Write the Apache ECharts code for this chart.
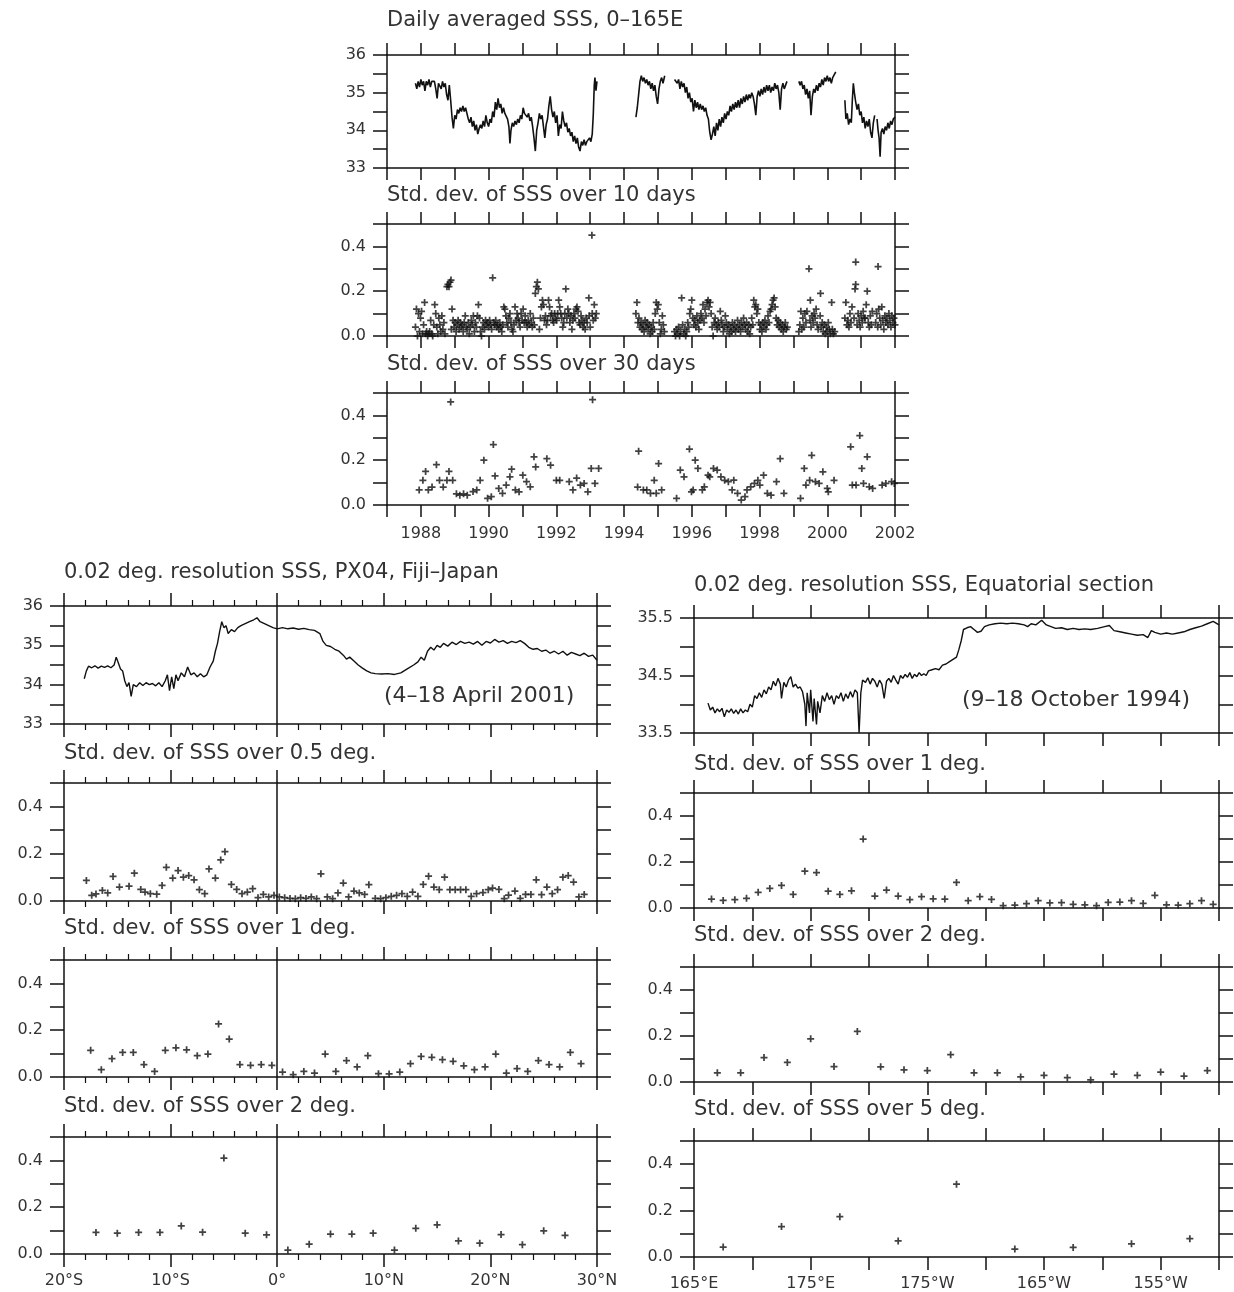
<!DOCTYPE html>
<html>
<head>
<meta charset="utf-8">
<script src="https://cdn.jsdelivr.net/npm/echarts@6/dist/echarts.min.js"></script>
<style>html,body{margin:0;padding:0;background:#fff}#c{width:1234px;height:1292px}</style>
</head>
<body>
<div id="c"></div>
<script>
// ---------- tick labels ----------
const yearLabelValues = [1988,1990,1992,1994,1996,1998,2000,2002];
const latLabelValues = [-20,-10,0,10,20,30];
const latLabelTexts = ['20°S','10°S','0°','10°N','20°N','30°N'];
const lonLabelValues = [165,175,185,195,205];
const lonLabelTexts = ['165°E','175°E','175°W','165°W','155°W'];
const stdLabelValues = [0,0.2,0.4];
const stdLabelTexts = ['0.0','0.2','0.4'];
const sssLabelValues = [33,34,35,36];
const eqSssLabelValues = [33.5,34.5,35.5];

// ---------- titles ----------
const panelTitles = [
  'Daily averaged SSS, 0–165E','Std. dev. of SSS over 10 days','Std. dev. of SSS over 30 days',
  '0.02 deg. resolution SSS, PX04, Fiji–Japan','Std. dev. of SSS over 0.5 deg.','Std. dev. of SSS over 1 deg.','Std. dev. of SSS over 2 deg.',
  '0.02 deg. resolution SSS, Equatorial section','Std. dev. of SSS over 1 deg.','Std. dev. of SSS over 2 deg.','Std. dev. of SSS over 5 deg.'
];
const notes = ['(4–18 April 2001)','(9–18 October 1994)'];

// ---------- data: daily averaged SSS (year, psu) ----------
const dailySSS = [
[1987.84,35.25],[1987.88,35.1],[1987.92,35.3],[1987.96,35.15],[1988.0,35.35],[1988.04,35.2],[1988.08,35.3],[1988.12,35.05],[1988.16,35.3],[1988.2,35.2],[1988.24,35.35],[1988.28,35.15],[1988.32,35.3],[1988.36,35.25],[1988.4,35.3],[1988.44,35.1],[1988.48,34.85],[1988.52,35.25],[1988.56,35.3],[1988.6,35.1],[1988.64,35.3],[1988.68,35.15],[1988.72,35.25],[1988.76,34.95],[1988.8,34.8],[1988.84,35.2],[1988.88,34.8],[1988.92,34.35],[1988.96,34.05],[1989.0,34.4],[1989.04,34.3],[1989.08,34.55],[1989.12,34.45],[1989.16,34.6],[1989.2,34.5],[1989.24,34.65],[1989.28,34.5],[1989.32,34.6],[1989.36,34.45],[1989.4,34.3],[1989.44,34.2],[1989.48,34.35],[1989.52,34.1],[1989.56,34.25],[1989.6,34.0],[1989.64,34.15],[1989.68,33.9],[1989.72,34.05],[1989.76,34.15],[1989.8,34.05],[1989.84,34.25],[1989.88,34.1],[1989.92,34.4],[1989.96,34.2],[1990.0,34.1],[1990.04,34.3],[1990.08,34.2],[1990.12,34.5],[1990.16,34.35],[1990.2,34.75],[1990.24,34.55],[1990.28,34.85],[1990.32,34.6],[1990.36,34.7],[1990.4,34.45],[1990.44,34.6],[1990.48,34.45],[1990.52,34.5],[1990.56,34.3],[1990.6,34.1],[1990.63,33.65],[1990.66,34.0],[1990.7,34.2],[1990.74,34.1],[1990.78,34.25],[1990.82,34.15],[1990.86,34.3],[1990.9,34.2],[1990.94,34.4],[1990.98,34.3],[1991.02,34.6],[1991.06,34.45],[1991.1,34.5],[1991.14,34.35],[1991.18,34.45],[1991.22,34.25],[1991.26,34.35],[1991.3,34.1],[1991.34,33.8],[1991.38,33.45],[1991.42,34.0],[1991.46,34.2],[1991.5,34.45],[1991.54,34.3],[1991.58,34.4],[1991.62,34.1],[1991.66,33.8],[1991.7,34.15],[1991.74,34.3],[1991.78,34.65],[1991.82,34.9],[1991.86,34.55],[1991.9,34.35],[1991.94,34.5],[1991.98,34.2],[1992.02,34.4],[1992.06,33.85],[1992.1,34.15],[1992.14,34.05],[1992.18,34.5],[1992.22,34.25],[1992.26,34.1],[1992.3,34.2],[1992.34,33.95],[1992.38,34.05],[1992.42,33.85],[1992.46,33.95],[1992.5,33.7],[1992.54,33.85],[1992.58,33.65],[1992.62,33.8],[1992.66,33.55],[1992.7,33.45],[1992.74,33.7],[1992.78,33.6],[1992.82,33.75],[1992.86,33.6],[1992.9,33.7],[1992.94,33.65],[1992.98,33.8],[1993.02,33.7],[1993.06,33.9],[1993.09,34.4],[1993.12,35.2],[1993.14,35.4],[1993.17,35.05],[1993.2,35.3],
[1993.7,null],
[1994.35,34.35],[1994.39,34.6],[1994.43,34.95],[1994.47,35.3],[1994.51,35.45],[1994.55,35.3],[1994.59,35.4],[1994.63,35.25],[1994.67,35.35],[1994.71,35.2],[1994.75,35.3],[1994.79,35.1],[1994.83,35.25],[1994.87,35.05],[1994.91,35.2],[1994.95,34.9],[1994.99,34.7],[1995.03,35.1],[1995.07,35.3],[1995.11,35.4],[1995.15,35.25],[1995.2,35.45],
[1995.35,null],
[1995.49,35.35],[1995.53,35.4],[1995.57,35.25],[1995.61,35.35],[1995.65,35.1],[1995.69,35.3],[1995.73,35.15],[1995.77,35.25],[1995.81,35.0],[1995.85,35.15],[1995.89,34.85],[1995.93,35.0],[1995.97,34.75],[1996.01,34.85],[1996.05,34.5],[1996.09,34.8],[1996.13,34.6],[1996.17,34.75],[1996.21,34.55],[1996.25,34.7],[1996.29,34.55],[1996.33,34.65],[1996.37,34.5],[1996.41,34.6],[1996.45,34.4],[1996.49,34.3],[1996.53,33.95],[1996.57,33.75],[1996.61,33.9],[1996.65,34.1],[1996.69,33.85],[1996.73,34.2],[1996.77,34.0],[1996.81,34.3],[1996.85,34.1],[1996.89,34.35],[1996.93,34.2],[1996.97,34.45],[1997.01,34.3],[1997.05,34.5],[1997.09,34.4],[1997.13,34.65],[1997.17,34.5],[1997.21,34.7],[1997.25,34.55],[1997.29,34.75],[1997.33,34.6],[1997.37,34.8],[1997.41,34.6],[1997.45,34.85],[1997.49,34.7],[1997.53,34.9],[1997.57,34.75],[1997.61,34.95],[1997.65,34.8],[1997.69,34.95],[1997.73,34.85],[1997.77,35.0],[1997.81,34.9],[1997.85,34.7],[1997.89,34.4],[1997.93,34.9],[1997.97,35.05],[1998.01,34.9],[1998.05,35.1],[1998.09,34.95],[1998.13,35.15],[1998.17,35.0],[1998.21,35.2],[1998.25,35.05],[1998.29,35.2],[1998.33,35.0],[1998.37,35.15],[1998.41,35.05],[1998.45,35.25],[1998.49,35.1],[1998.53,35.2],[1998.57,35.0],[1998.61,34.55],[1998.65,35.1],[1998.69,35.25],[1998.73,35.1],[1998.77,35.2],[1998.81,35.3],
[1999.0,null],
[1999.16,35.3],[1999.2,35.2],[1999.24,35.3],[1999.28,35.1],[1999.32,35.2],[1999.36,34.95],[1999.4,35.1],[1999.44,34.85],[1999.48,35.05],[1999.52,34.4],[1999.56,34.9],[1999.6,35.1],[1999.64,35.0],[1999.68,35.2],[1999.72,35.05],[1999.76,35.25],[1999.8,35.15],[1999.84,35.35],[1999.88,35.2],[1999.92,35.4],[1999.96,35.3],[2000.0,35.45],[2000.04,35.3],[2000.08,35.4],[2000.12,35.25],[2000.16,35.4],[2000.2,35.35],[2000.25,35.55],
[2000.4,null],
[2000.52,34.8],[2000.55,34.3],[2000.59,34.45],[2000.63,34.15],[2000.67,34.3],[2000.71,34.2],[2000.74,34.8],[2000.77,35.25],[2000.8,35.0],[2000.84,34.75],[2000.88,34.55],[2000.92,34.7],[2000.96,34.4],[2001.0,34.5],[2001.04,34.2],[2001.08,34.35],[2001.12,34.05],[2001.16,34.25],[2001.2,34.1],[2001.24,34.3],[2001.28,33.95],[2001.32,33.8],[2001.36,34.2],[2001.4,34.4],[2001.44,null],[2001.47,34.3],[2001.5,34.0],[2001.53,33.8],[2001.56,33.3],[2001.59,33.95],[2001.63,34.05],[2001.67,33.9],[2001.71,34.1],[2001.75,34.0],[2001.79,34.2],[2001.83,34.05],[2001.87,34.25],[2001.91,34.15],[2001.95,34.3],[2002.0,34.35]
];

// ---------- std. dev. over 10 days (year, psu) ----------
const sd10days = [
[1987.84,0.04],[1987.87,0.12],[1987.9,0.0],[1987.93,0.1],[1987.96,0.02],[1987.99,0.08],[1988.02,0.11],[1988.05,0.01],[1988.08,0.05],[1988.11,0.15],[1988.14,0.01],[1988.17,0.02],[1988.2,0.0],[1988.23,0.01],[1988.26,0.02],[1988.29,0.07],[1988.32,0.01],[1988.35,0.0],[1988.38,0.05],[1988.41,0.14],[1988.44,0.1],[1988.47,0.04],[1988.5,0.01],[1988.53,0.08],[1988.56,0.05],[1988.59,0.02],[1988.62,0.09],[1988.65,0.03],[1988.68,0.06],[1988.71,0.01],[1988.77,0.22],[1988.8,0.23],[1988.83,0.22],[1988.86,0.24],[1988.89,0.25],[1988.9,0.03],[1988.92,0.12],[1988.95,0.07],[1988.98,0.04],
[1989.01,0.06],[1989.04,0.02],[1989.07,0.05],[1989.1,0.07],[1989.13,0.03],[1989.16,0.06],[1989.19,0.04],[1989.22,0.05],[1989.25,0.02],[1989.28,0.06],[1989.31,0.09],[1989.34,0.04],[1989.37,0.03],[1989.4,0.06],[1989.43,0.01],[1989.46,0.04],[1989.49,0.07],[1989.52,0.05],[1989.55,0.09],[1989.58,0.02],[1989.61,0.06],[1989.64,0.04],[1989.67,0.09],[1989.7,0.14],[1989.73,0.08],[1989.76,0.02],[1989.79,0.0],[1989.82,0.04],[1989.85,0.06],[1989.88,0.03],[1989.91,0.07],[1989.94,0.05],[1989.97,0.06],
[1990.0,0.04],[1990.03,0.07],[1990.06,0.05],[1990.12,0.26],[1990.09,0.03],[1990.15,0.06],[1990.18,0.05],[1990.21,0.07],[1990.24,0.04],[1990.27,0.05],[1990.3,0.03],[1990.33,0.06],[1990.36,0.04],[1990.39,0.02],[1990.42,0.05],[1990.45,0.13],[1990.48,0.12],[1990.51,0.09],[1990.54,0.06],[1990.57,0.04],[1990.6,0.08],[1990.63,0.1],[1990.66,0.06],[1990.69,0.03],[1990.72,0.02],[1990.75,0.05],[1990.78,0.13],[1990.81,0.07],[1990.84,0.1],[1990.87,0.08],[1990.9,0.06],[1990.93,0.04],[1990.96,0.1],[1990.99,0.07],
[1991.02,0.12],[1991.05,0.06],[1991.08,0.09],[1991.11,0.06],[1991.14,0.04],[1991.17,0.07],[1991.2,0.05],[1991.23,0.1],[1991.26,0.06],[1991.29,0.04],[1991.32,0.08],[1991.35,0.05],[1991.38,0.19],[1991.41,0.22],[1991.44,0.24],[1991.47,0.21],[1991.5,0.03],[1991.53,0.08],[1991.56,0.13],[1991.59,0.16],[1991.62,0.14],[1991.65,0.07],[1991.68,0.09],[1991.71,0.05],[1991.74,0.07],[1991.77,0.16],[1991.8,0.13],[1991.83,0.09],[1991.86,0.1],[1991.89,0.07],[1991.92,0.06],[1991.95,0.1],[1991.98,0.08],
[1992.01,0.07],[1992.04,0.1],[1992.07,0.16],[1992.1,0.13],[1992.13,0.1],[1992.16,0.08],[1992.19,0.04],[1992.22,0.06],[1992.25,0.1],[1992.28,0.21],[1992.31,0.08],[1992.34,0.12],[1992.37,0.1],[1992.4,0.06],[1992.43,0.09],[1992.46,0.03],[1992.49,0.07],[1992.52,0.1],[1992.55,0.08],[1992.58,0.12],[1992.61,0.13],[1992.64,0.11],[1992.67,0.06],[1992.7,0.05],[1992.73,0.09],[1992.76,0.07],[1992.79,0.04],[1992.82,0.06],[1992.85,0.03],[1992.88,0.08],[1992.91,0.06],[1992.96,0.17],[1992.97,0.09],[1993.0,0.04],[1993.05,0.45],[1993.06,0.1],[1993.09,0.07],[1993.12,0.14],[1993.15,0.08],[1993.18,0.1],
[1994.35,0.1],[1994.38,0.15],[1994.41,0.06],[1994.44,0.08],[1994.47,0.04],[1994.5,0.06],[1994.53,0.03],[1994.56,0.05],[1994.59,0.02],[1994.62,0.07],[1994.65,0.04],[1994.68,0.06],[1994.71,0.03],[1994.74,0.05],[1994.77,0.01],[1994.8,0.04],[1994.83,0.02],[1994.86,0.06],[1994.89,0.03],[1994.92,0.1],[1994.95,0.15],[1994.98,0.12],[1995.01,0.14],[1995.04,0.06],[1995.07,0.01],[1995.1,0.03],[1995.13,0.09],[1995.16,0.05],[1995.19,0.02],
[1995.49,0.02],[1995.52,0.0],[1995.55,0.03],[1995.58,0.01],[1995.61,0.04],[1995.64,0.0],[1995.67,0.02],[1995.7,0.17],[1995.73,0.05],[1995.76,0.01],[1995.79,0.03],[1995.82,0.0],[1995.85,0.02],[1995.88,0.06],[1995.91,0.04],[1995.94,0.1],[1995.97,0.12],[1996.0,0.16],[1996.03,0.08],[1996.06,0.05],[1996.09,0.07],[1996.12,0.04],[1996.15,0.09],[1996.18,0.06],[1996.21,0.03],[1996.24,0.07],[1996.27,0.1],[1996.3,0.08],[1996.33,0.14],[1996.36,0.06],[1996.39,0.12],[1996.42,0.09],[1996.45,0.15],[1996.48,0.16],[1996.51,0.13],[1996.54,0.15],[1996.57,0.1],[1996.6,0.04],[1996.63,0.0],[1996.66,0.06],[1996.69,0.08],[1996.72,0.05],[1996.75,0.03],[1996.78,0.06],[1996.81,0.04],[1996.84,0.11],[1996.87,0.07],[1996.9,0.05],[1996.93,0.02],[1996.96,0.04],[1996.99,0.09],
[1997.02,0.06],[1997.05,0.03],[1997.08,0.05],[1997.11,0.01],[1997.14,0.04],[1997.17,0.02],[1997.2,0.06],[1997.23,0.03],[1997.26,0.05],[1997.29,0.02],[1997.32,0.04],[1997.35,0.07],[1997.38,0.03],[1997.41,0.05],[1997.44,0.02],[1997.47,0.06],[1997.5,0.04],[1997.53,0.08],[1997.56,0.05],[1997.59,0.03],[1997.62,0.06],[1997.65,0.02],[1997.68,0.05],[1997.71,0.01],[1997.74,0.04],[1997.77,0.08],[1997.8,0.05],[1997.83,0.16],[1997.86,0.13],[1997.89,0.14],[1997.92,0.1],[1997.95,0.12],[1997.98,0.06],
[1998.01,0.03],[1998.04,0.05],[1998.07,0.02],[1998.1,0.06],[1998.13,0.04],[1998.16,0.07],[1998.19,0.03],[1998.22,0.05],[1998.25,0.09],[1998.28,0.06],[1998.31,0.11],[1998.34,0.12],[1998.37,0.14],[1998.4,0.16],[1998.43,0.17],[1998.46,0.13],[1998.49,0.08],[1998.52,0.05],[1998.55,0.07],[1998.58,0.04],[1998.61,0.06],[1998.64,0.03],[1998.67,0.05],[1998.7,0.02],[1998.73,0.04],[1998.76,0.06],[1998.79,0.03],[1998.82,0.04],
[1999.16,0.02],[1999.19,0.05],[1999.22,0.11],[1999.25,0.03],[1999.28,0.08],[1999.31,0.04],[1999.34,0.1],[1999.37,0.06],[1999.4,0.11],[1999.46,0.3],[1999.5,0.16],[1999.49,0.07],[1999.52,0.04],[1999.55,0.09],[1999.58,0.06],[1999.61,0.1],[1999.64,0.08],[1999.67,0.12],[1999.7,0.05],[1999.73,0.03],[1999.8,0.19],[1999.79,0.09],[1999.82,0.04],[1999.85,0.06],[1999.88,0.02],[1999.91,0.05],[1999.94,0.01],[1999.97,0.04],[2000.0,0.02],[2000.03,0.06],[2000.06,0.03],[2000.09,0.01],[2000.13,0.15],[2000.15,0.03],[2000.18,0.01],[2000.22,0.02],
[2000.52,0.08],[2000.55,0.15],[2000.58,0.05],[2000.61,0.07],[2000.64,0.04],[2000.67,0.1],[2000.7,0.06],[2000.73,0.13],[2000.82,0.21],[2000.84,0.23],[2000.84,0.33],[2000.79,0.08],[2000.88,0.05],[2000.91,0.1],[2000.94,0.07],[2000.97,0.04],[2001.0,0.09],[2001.03,0.06],[2001.06,0.11],[2001.09,0.08],[2001.18,0.2],[2001.15,0.14],[2001.21,0.06],[2001.12,0.08],[2001.24,0.04],[2001.27,0.09],[2001.3,0.05],[2001.33,0.11],[2001.5,0.31],[2001.43,0.06],[2001.46,0.1],[2001.49,0.04],[2001.52,0.12],[2001.55,0.08],[2001.58,0.05],[2001.61,0.13],[2001.64,0.07],[2001.67,0.03],[2001.7,0.09],[2001.73,0.06],[2001.76,0.08],[2001.79,0.05],[2001.82,0.1],[2001.85,0.07],[2001.88,0.04],[2001.91,0.09],[2001.94,0.06],[2001.97,0.08],[2002.0,0.05]
];

// ---------- std. dev. over 30 days (year, psu) ----------
const sd30days = [
[1987.95,0.067],[1988.06,0.11],[1988.14,0.15],[1988.22,0.067],[1988.33,0.08],[1988.46,0.18],[1988.55,0.11],[1988.66,0.08],[1988.77,0.11],[1988.83,0.15],[1988.88,0.46],[1988.94,0.11],[1989.05,0.05],[1989.15,0.044],[1989.26,0.05],[1989.37,0.044],[1989.54,0.06],[1989.65,0.067],[1989.75,0.11],[1989.86,0.2],[1989.97,0.03],[1990.08,0.037],[1990.14,0.27],[1990.19,0.13],[1990.3,0.074],[1990.41,0.052],[1990.52,0.089],[1990.63,0.126],[1990.68,0.16],[1990.79,0.067],[1990.9,0.059],[1991.01,0.133],[1991.12,0.104],[1991.23,0.081],[1991.34,0.215],[1991.39,0.17],[1991.72,0.207],[1991.83,0.178],[1992.0,0.11],[1992.1,0.11],[1992.38,0.104],[1992.49,0.067],[1992.6,0.12],[1992.71,0.089],[1992.82,0.096],[1992.93,0.059],[1993.03,0.163],[1993.07,0.47],[1993.14,0.096],[1993.25,0.163],
[1994.4,0.08],[1994.43,0.24],[1994.57,0.067],[1994.67,0.067],[1994.78,0.052],[1994.89,0.11],[1994.95,0.052],[1995.02,0.185],[1995.11,0.067],[1995.55,0.03],[1995.66,0.156],[1995.77,0.126],[1995.93,0.25],[1995.99,0.059],[1996.04,0.067],[1996.1,0.2],[1996.18,0.163],[1996.31,0.067],[1996.37,0.081],[1996.48,0.133],[1996.53,0.126],[1996.64,0.163],[1996.75,0.156],[1996.86,0.126],[1996.97,0.11],[1997.08,0.104],[1997.19,0.067],[1997.24,0.111],[1997.35,0.052],[1997.46,0.022],[1997.57,0.037],[1997.63,0.067],[1997.74,0.081],[1997.85,0.096],[1997.95,0.11],[1998.01,0.089],[1998.12,0.133],[1998.23,0.052],[1998.34,0.044],[1998.5,0.104],[1998.61,0.207],[1998.72,0.052],
[1999.21,0.03],[1999.32,0.163],[1999.37,0.089],[1999.48,0.11],[1999.54,0.222],[1999.65,0.104],[1999.76,0.096],[1999.87,0.148],[2000.0,0.074],[2000.03,0.059],[2000.2,0.11],[2000.69,0.26],[2000.74,0.089],[2000.85,0.089],[2000.96,0.31],[2001.02,0.163],[2001.07,0.096],[2001.18,0.215],[2001.24,0.081],[2001.34,0.074],[2001.62,0.089],[2001.73,0.096],[2001.9,0.104],[2001.98,0.096]
];

// ---------- PX04 Fiji-Japan (latitude, psu) ----------
const px04SSS = [
[-18.1,34.15],[-17.9,34.35],[-17.7,34.47],[-17.4,34.43],[-17.1,34.48],[-16.8,34.42],[-16.5,34.47],[-16.2,34.44],[-15.9,34.48],[-15.6,34.43],[-15.3,34.5],[-15.1,34.7],[-14.9,34.55],[-14.7,34.4],[-14.5,34.35],[-14.3,34.1],[-14.1,33.95],[-13.9,34.05],[-13.7,33.7],[-13.5,34.0],[-13.2,33.95],[-12.9,34.05],[-12.6,33.98],[-12.3,34.05],[-12.0,34.0],[-11.7,34.03],[-11.4,33.97],[-11.1,34.05],[-10.8,33.95],[-10.5,34.1],[-10.3,34.25],[-10.1,33.85],[-9.9,34.2],[-9.7,33.9],[-9.5,34.25],[-9.3,34.1],[-9.0,34.3],[-8.7,34.2],[-8.4,34.45],[-8.1,34.25],[-7.8,34.3],[-7.5,34.2],[-7.2,34.28],[-6.9,34.2],[-6.6,34.25],[-6.3,34.45],[-6.0,34.6],[-5.8,34.85],[-5.6,35.05],[-5.4,35.35],[-5.2,35.6],[-5.0,35.45],[-4.8,35.5],[-4.6,35.3],[-4.3,35.4],[-4.0,35.35],[-3.7,35.45],[-3.4,35.5],[-3.0,35.55],[-2.6,35.6],[-2.2,35.65],[-1.9,35.7],[-1.6,35.6],[-1.2,35.55],[-0.8,35.5],[-0.4,35.45],[0.0,35.42],[0.5,35.45],[1.0,35.42],[1.5,35.44],[2.0,35.41],[2.5,35.43],[3.0,35.4],[3.5,35.38],[4.0,35.3],[4.3,35.1],[4.6,35.0],[5.0,34.97],[5.4,34.9],[5.8,34.85],[6.2,34.75],[6.5,34.65],[6.8,34.7],[7.2,34.6],[7.6,34.5],[8.0,34.42],[8.4,34.35],[8.8,34.3],[9.2,34.28],[9.8,34.27],[10.4,34.28],[11.0,34.26],[11.6,34.3],[12.2,34.4],[12.8,34.5],[13.2,34.58],[13.5,34.7],[13.8,34.62],[14.1,34.85],[14.4,34.95],[14.7,34.88],[15.0,35.0],[15.3,34.95],[15.6,35.05],[16.0,34.98],[16.4,35.08],[16.8,35.02],[17.2,35.1],[17.6,35.05],[18.0,35.08],[18.4,35.03],[18.8,35.1],[19.2,35.0],[19.6,35.1],[20.0,35.06],[20.4,35.15],[20.8,35.08],[21.2,35.12],[21.6,35.05],[22.0,35.1],[22.4,35.07],[22.8,35.12],[23.2,35.05],[23.6,34.95],[24.0,34.9],[24.4,34.92],[24.8,34.85],[25.2,34.88],[25.6,34.8],[26.0,34.85],[26.4,34.78],[26.8,34.85],[27.2,34.75],[27.6,34.82],[28.0,34.78],[28.4,34.74],[28.8,34.8],[29.2,34.72],[29.6,34.75],[30.0,34.62]
];
const px04Sd05 = [
[-17.9,0.087],[-17.4,0.024],[-17.0,0.03],[-16.4,0.045],[-15.9,0.034],[-15.4,0.104],[-14.8,0.059],[-13.9,0.063],[-13.4,0.118],[-12.8,0.049],[-12.4,0.038],[-11.9,0.031],[-11.3,0.029],[-10.8,0.066],[-10.4,0.143],[-9.8,0.097],[-9.3,0.129],[-8.8,0.101],[-8.3,0.108],[-7.8,0.09],[-7.3,0.048],[-6.8,0.031],[-6.4,0.136],[-5.8,0.097],[-5.3,0.174],[-4.9,0.209],[-4.3,0.07],[-3.8,0.049],[-3.3,0.031],[-2.8,0.038],[-2.3,0.052],[-1.8,0.014],[-1.3,0.028],[-0.8,0.017],[-0.3,0.024],[0.2,0.017],[0.7,0.014],[1.2,0.011],[1.7,0.01],[2.2,0.014],[2.7,0.011],[3.2,0.017],[3.7,0.01],[4.1,0.115],[4.7,0.017],[5.2,0.01],[5.7,0.034],[6.2,0.076],[6.7,0.017],[7.2,0.042],[7.7,0.034],[8.2,0.028],[8.6,0.069],[9.2,0.011],[9.7,0.01],[10.2,0.014],[10.7,0.02],[11.2,0.024],[11.7,0.031],[12.2,0.02],[12.7,0.038],[13.2,0.02],[13.7,0.07],[14.2,0.105],[14.7,0.059],[15.2,0.048],[15.7,0.101],[16.2,0.048],[16.7,0.048],[17.2,0.048],[17.7,0.048],[18.2,0.02],[18.7,0.031],[19.3,0.036],[19.8,0.048],[20.2,0.055],[20.8,0.049],[21.3,0.01],[21.7,0.025],[22.3,0.042],[22.8,0.011],[23.3,0.028],[23.8,0.028],[24.3,0.09],[24.8,0.027],[25.3,0.059],[25.8,0.031],[26.3,0.048],[26.8,0.101],[27.3,0.108],[27.8,0.08],[28.3,0.017],[28.8,0.028]
];
const px04Sd1 = [
[-17.5,0.114],[-16.5,0.031],[-15.5,0.078],[-14.5,0.105],[-13.5,0.105],[-12.5,0.053],[-11.5,0.024],[-10.5,0.114],[-9.5,0.125],[-8.5,0.116],[-7.5,0.091],[-6.5,0.098],[-5.5,0.227],[-4.5,0.162],[-3.5,0.053],[-2.5,0.05],[-1.5,0.053],[-0.5,0.05],[0.5,0.021],[1.5,0.01],[2.5,0.024],[3.5,0.017],[4.5,0.098],[5.5,0.024],[6.5,0.07],[7.5,0.043],[8.5,0.091],[9.5,0.014],[10.5,0.013],[11.5,0.021],[12.5,0.057],[13.5,0.088],[14.5,0.084],[15.5,0.074],[16.5,0.067],[17.5,0.048],[18.5,0.031],[19.5,0.043],[20.5,0.098],[21.5,0.017],[22.5,0.036],[23.5,0.024],[24.5,0.07],[25.5,0.053],[26.5,0.043],[27.5,0.105],[28.5,0.057]
];
const px04Sd2 = [
[-17,0.092],[-15,0.089],[-13,0.092],[-11,0.092],[-9,0.12],[-7,0.093],[-5,0.41],[-3,0.089],[-1,0.082],[1,0.017],[3,0.042],[5,0.085],[7,0.085],[9,0.089],[11,0.017],[13,0.11],[15,0.125],[17,0.056],[19,0.046],[21,0.083],[23,0.04],[25,0.099],[27,0.08]
];

// ---------- Equatorial section (longitude east, psu) ----------
const eqSSS = [
[166.2,34.02],[166.4,33.9],[166.6,33.95],[166.8,33.85],[167.0,33.92],[167.2,33.87],[167.4,33.93],[167.6,33.78],[167.8,33.9],[168.0,33.86],[168.2,33.92],[168.4,33.84],[168.6,33.9],[168.8,33.83],[169.0,33.92],[169.2,33.85],[169.4,33.9],[169.6,33.87],[169.8,34.0],[170.0,33.95],[170.2,34.15],[170.4,34.1],[170.6,34.2],[170.8,34.12],[171.0,34.25],[171.2,34.18],[171.4,34.3],[171.6,34.25],[171.8,34.4],[172.0,34.32],[172.2,34.45],[172.4,34.35],[172.5,34.1],[172.7,34.38],[172.9,34.3],[173.1,34.42],[173.3,34.48],[173.5,34.3],[173.7,34.35],[173.9,34.28],[174.1,34.3],[174.3,34.22],[174.5,34.0],[174.6,33.62],[174.7,34.2],[174.9,33.85],[175.0,34.25],[175.2,33.7],[175.3,34.1],[175.5,33.65],[175.6,34.05],[175.8,33.85],[176.0,34.15],[176.2,34.05],[176.4,34.2],[176.6,34.08],[176.8,34.15],[177.0,34.0],[177.2,34.15],[177.4,34.1],[177.6,34.2],[177.8,34.05],[178.0,34.18],[178.2,34.1],[178.4,34.22],[178.6,34.12],[178.8,34.25],[179.0,34.2],[179.15,33.5],[179.3,34.2],[179.45,34.42],[179.7,34.38],[179.9,34.46],[180.1,34.35],[180.3,34.45],[180.5,34.4],[180.7,34.3],[180.9,34.42],[181.1,34.35],[181.3,34.1],[181.5,34.4],[181.7,34.45],[181.9,34.38],[182.1,34.5],[182.3,34.42],[182.5,34.35],[182.7,34.5],[182.9,34.45],[183.1,34.52],[183.3,34.47],[183.5,34.55],[183.7,34.45],[183.9,34.52],[184.1,34.48],[184.3,34.55],[184.5,34.5],[184.7,34.53],[184.9,34.5],[185.1,34.58],[185.4,34.6],[185.7,34.62],[186.0,34.6],[186.3,34.68],[186.6,34.7],[186.9,34.74],[187.2,34.78],[187.5,34.82],[187.7,34.95],[187.9,35.1],[188.1,35.3],[188.4,35.33],[188.7,35.35],[189.0,35.3],[189.3,35.25],[189.6,35.27],[189.9,35.35],[190.3,35.38],[190.8,35.4],[191.3,35.41],[191.8,35.4],[192.3,35.41],[192.8,35.4],[193.3,35.38],[193.6,35.35],[193.9,35.4],[194.3,35.38],[194.8,35.46],[195.2,35.38],[195.6,35.35],[196.0,35.32],[196.5,35.33],[197.0,35.3],[197.5,35.32],[198.0,35.3],[198.5,35.31],[199.0,35.3],[199.6,35.32],[200.2,35.35],[200.6,35.37],[201.0,35.28],[201.5,35.26],[202.0,35.24],[202.5,35.22],[203.0,35.2],[203.5,35.21],[203.9,35.16],[204.2,35.28],[204.5,35.25],[205.0,35.22],[205.5,35.24],[206.0,35.22],[206.5,35.24],[207.0,35.26],[207.5,35.3],[208.0,35.33],[208.5,35.36],[209.0,35.4],[209.5,35.44],[210.0,35.38]
];
const eqSd1 = [
[166.5,0.039],[167.5,0.033],[168.5,0.036],[169.5,0.042],[170.5,0.068],[171.5,0.085],[172.5,0.098],[173.5,0.059],[174.5,0.16],[175.5,0.154],[176.5,0.073],[177.5,0.059],[178.5,0.075],[179.5,0.30],[180.5,0.052],[181.5,0.078],[182.5,0.052],[183.5,0.036],[184.5,0.049],[185.5,0.04],[186.5,0.039],[187.5,0.111],[188.5,0.032],[189.5,0.049],[190.5,0.037],[191.5,0.01],[192.5,0.012],[193.5,0.019],[194.5,0.032],[195.5,0.022],[196.5,0.023],[197.5,0.016],[198.5,0.014],[199.5,0.01],[200.5,0.024],[201.5,0.026],[202.5,0.032],[203.5,0.02],[204.5,0.055],[205.5,0.014],[206.5,0.012],[207.5,0.019],[208.5,0.032],[209.5,0.016]
];
const eqSd2 = [
[167,0.04],[169,0.04],[171,0.106],[173,0.085],[175,0.188],[177,0.067],[179,0.22],[181,0.066],[183,0.053],[185,0.05],[187,0.119],[189,0.04],[191,0.04],[193,0.022],[195,0.029],[197,0.019],[199,0.009],[201,0.034],[203,0.029],[205,0.043],[207,0.026],[209,0.05]
];
const eqSd5 = [
[167.5,0.043],[172.5,0.131],[177.5,0.174],[182.5,0.069],[187.5,0.314],[192.5,0.034],[197.5,0.041],[202.5,0.057],[207.5,0.079]
];

// ---------- build chart ----------
const FONT = 'DejaVu Sans';
const TXT = '#333';
const INK = '#111';
const PLUS = 'path://M3,0H5V3H8V5H5V8H3V5H0V3H3Z';

function lookup(vals, texts) {
  return function (v) {
    for (let i = 0; i < vals.length; i++) if (Math.abs(v - vals[i]) < 1e-6) return texts[i];
    return '';
  };
}
const xCfg = {
  year: {min:1987, max:2002, interval:1, tick:12, fmt: lookup(yearLabelValues, yearLabelValues.map(String))},
  lat:  {min:-20, max:30, interval:10, tick:13, minor:5, fmt: lookup(latLabelValues, latLabelTexts)},
  lon:  {min:165, max:210, interval:5, tick:13, fmt: lookup(lonLabelValues, lonLabelTexts)}
};
const yCfg = {
  sss:   {min:33, max:36, interval:0.5, fmt: lookup(sssLabelValues, sssLabelValues.map(String))},
  std:   {min:0, max:0.5, interval:0.1, fmt: lookup(stdLabelValues, stdLabelTexts)},
  eqsss: {min:33.5, max:35.5, interval:0.5, fmt: lookup(eqSssLabelValues, eqSssLabelValues.map(v => v.toFixed(1)))}
};

const panels = [
  {r:[387,55,508,113],  x:'year', y:'sss', lab:false, kind:'line', data:dailySSS, t:[387,10], lw:1.6},
  {r:[387,224,508,112], x:'year', y:'std', lab:false, kind:'scatter', data:sd10days, t:[387,185]},
  {r:[387,393,508,112], x:'year', y:'std', lab:true,  kind:'scatter', data:sd30days, t:[387,354], xm:21},
  {r:[64,606,533,118],  x:'lat', y:'sss', lab:false, kind:'line', data:px04SSS, zero:true, t:[64,562], lw:1.4},
  {r:[64,783,533,118],  x:'lat', y:'std', lab:false, kind:'scatter', data:px04Sd05, zero:true, t:[64,743]},
  {r:[64,960,533,117],  x:'lat', y:'std', lab:false, kind:'scatter', data:px04Sd1, zero:true, t:[64,918]},
  {r:[64,1137,533,117], x:'lat', y:'std', lab:true,  kind:'scatter', data:px04Sd2, zero:true, t:[64,1096], xm:19},
  {r:[694,618,525,115], x:'lon', y:'eqsss', lab:false, kind:'line', data:eqSSS, t:[694,575], lw:1.4},
  {r:[694,793,525,115], x:'lon', y:'std', lab:false, kind:'scatter', data:eqSd1, t:[694,754]},
  {r:[694,967,525,115], x:'lon', y:'std', lab:false, kind:'scatter', data:eqSd2, t:[694,925]},
  {r:[694,1141,525,116],x:'lon', y:'std', lab:true,  kind:'scatter', data:eqSd5, t:[694,1099], xm:19}
];

const option = {animation:false, backgroundColor:'#fff', grid:[], xAxis:[], yAxis:[], series:[], title:[]};
const lineSt = {color: INK, width: 1.5};
const titleStyle = {fontSize:21, fontWeight:'normal', color:TXT, fontFamily:FONT};

panels.forEach((p, gi) => {
  option.grid.push({left:p.r[0], top:p.r[1], width:p.r[2], height:p.r[3], containLabel:false});
  const xc = xCfg[p.x], yc = yCfg[p.y];
  ['bottom','top'].forEach((pos, k) => {
    option.xAxis.push({
      type:'value', gridIndex:gi, position:pos, min:xc.min, max:xc.max, interval:xc.interval,
      axisLine:{show:true, onZero:false, lineStyle:lineSt},
      axisTick:{show:true, length:xc.tick, lineStyle:lineSt},
      minorTick: xc.minor ? {show:true, splitNumber:xc.minor, length:6, lineStyle:{color:INK, width:1.2}} : {show:false},
      axisLabel:{show: k===0 && p.lab, formatter: xc.fmt, margin: p.xm || 18, fontSize:16, color:TXT, fontFamily:FONT, showMinLabel:true, showMaxLabel:true},
      splitLine:{show:false}, minorSplitLine:{show:false}
    });
  });
  ['left','right'].forEach((pos, k) => {
    option.yAxis.push({
      type:'value', gridIndex:gi, position:pos, min:yc.min, max:yc.max, interval:yc.interval,
      axisLine:{show:true, onZero:false, lineStyle:lineSt},
      axisTick:{show:true, length:14, lineStyle:lineSt},
      axisLabel:{show: k===0, formatter: yc.fmt, margin:21, fontSize:16, color:TXT, fontFamily:FONT, showMinLabel:true, showMaxLabel:true},
      splitLine:{show:false}
    });
  });
  const s = {xAxisIndex: 2*gi, yAxisIndex: 2*gi, data: p.data, silent:true};
  if (p.kind === 'line') {
    Object.assign(s, {type:'line', showSymbol:false, symbol:'none', connectNulls:false, lineStyle:{color:INK, width:p.lw}});
  } else {
    Object.assign(s, {type:'scatter', symbol:PLUS, symbolSize:7, itemStyle:{color:INK}});
  }
  if (p.zero) {
    s.markLine = {silent:true, symbol:'none', label:{show:false}, lineStyle:{color:INK, type:'solid', width:1.5}, data:[{xAxis:0}]};
  }
  option.series.push(s);
  option.title.push({text: panelTitles[gi], left:p.t[0], top:p.t[1], padding:0, textStyle:titleStyle});
});
option.title.push({text: notes[0], left:384, top:685, padding:0, textStyle:Object.assign({}, titleStyle, {fontSize:22})});
option.title.push({text: notes[1], left:962, top:689, padding:0, textStyle:Object.assign({}, titleStyle, {fontSize:22})});

const chart = echarts.init(document.getElementById('c'), null, {renderer:'canvas'});
chart.setOption(option);
</script>
</body>
</html>
